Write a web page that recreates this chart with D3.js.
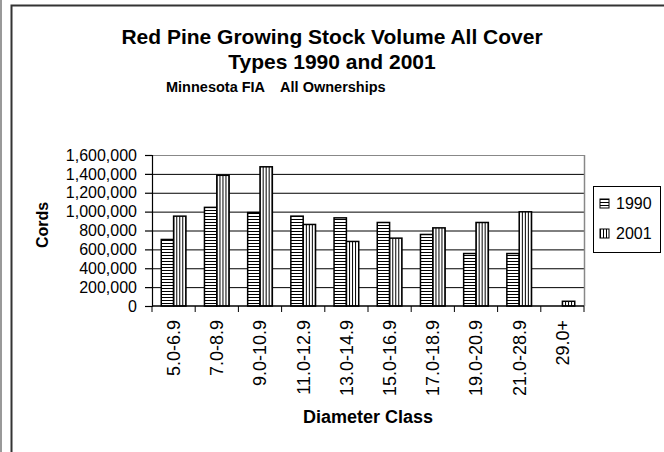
<!doctype html>
<html>
<head>
<script src="https://d3js.org/d3.v7.min.js"></script>
<style>
  body { margin: 0; background: #fff; }
  svg text { font-family: "Liberation Sans", Arial, sans-serif; fill: #000; }
</style>
</head>
<body>
<script>
// data
var categories = ["5.0-6.9", "7.0-8.9", "9.0-10.9", "11.0-12.9", "13.0-14.9",
                  "15.0-16.9", "17.0-18.9", "19.0-20.9", "21.0-28.9", "29.0+"];
var seriesNames = ["1990", "2001"];
var vol1990 = [705000, 1045000, 990000, 952000, 934000, 885000, 758000, 556000, 556000, 0];
var vol2001 = [952000, 1385000, 1475000, 864000, 684000, 719000, 828000, 885000, 998000, 50000];
var yTicks = [0, 200000, 400000, 600000, 800000, 1000000, 1200000, 1400000, 1600000];

var width = 664, height = 452;
var plot = {left: 152, right: 584, top: 155, bottom: 306};
var font = "'Liberation Sans', Arial, sans-serif";

var svg = d3.select("body").append("svg")
  .attr("width", width).attr("height", height);

// patterns: horizontal stripes for 1990, vertical for 2001
var defs = svg.append("defs");
var ph = defs.append("pattern").attr("id", "hstripe")
  .attr("patternUnits", "userSpaceOnUse").attr("width", 4).attr("height", 3);
ph.append("rect").attr("width", 4).attr("height", 3).attr("fill", "#fff");
ph.append("rect").attr("y", 0).attr("width", 4).attr("height", 1).attr("fill", "#000");
var pv = defs.append("pattern").attr("id", "vstripe")
  .attr("patternUnits", "userSpaceOnUse").attr("width", 3).attr("height", 4);
pv.append("rect").attr("width", 3).attr("height", 4).attr("fill", "#fff");
pv.append("rect").attr("x", 0).attr("width", 1).attr("height", 4).attr("fill", "#000");
var fills = {"1990": "url(#hstripe)", "2001": "url(#vstripe)"};

// outer frame
svg.append("line").attr("x1", 1).attr("x2", 1).attr("y1", 0).attr("y2", height)
  .attr("stroke", "#999").attr("stroke-width", 2);
svg.append("path").attr("d", "M11.5," + height + "V5.5H" + width)
  .attr("fill", "none").attr("stroke", "#333").attr("stroke-width", 2);

// titles
svg.append("text").attr("x", 332).attr("y", 44).attr("text-anchor", "middle")
  .style("font-size", "21px").style("font-weight", "bold")
  .text("Red Pine Growing Stock Volume All Cover");
svg.append("text").attr("x", 332).attr("y", 69).attr("text-anchor", "middle")
  .style("font-size", "21px").style("font-weight", "bold")
  .text("Types 1990 and 2001");
svg.append("text").attr("x", 166).attr("y", 92)
  .style("font-size", "14.5px").style("font-weight", "bold")
  .attr("xml:space", "preserve")
  .text("Minnesota FIA    All Ownerships");

// scales
var x0 = d3.scaleBand().domain(categories).range([plot.left, plot.right])
  .paddingInner(1.5 / 3.5).paddingOuter(0.75 / 3.5);
var x1 = d3.scaleBand().domain(seriesNames).range([0, x0.bandwidth()]);
var y = d3.scaleLinear().domain([0, 1600000]).range([plot.bottom, plot.top]);

// gridlines
svg.append("g").selectAll("line").data(yTicks.slice(1)).join("line")
  .attr("x1", plot.left).attr("x2", plot.right)
  .attr("y1", d => y(d) + 0.5).attr("y2", d => y(d) + 0.5)
  .attr("stroke", (d, i, a) => i === a.length - 1 ? "#888" : "#000")
  .attr("stroke-width", 1);
svg.append("line").attr("x1", plot.right + 0.5).attr("x2", plot.right + 0.5)
  .attr("y1", plot.top).attr("y2", plot.bottom)
  .attr("stroke", "#888").attr("stroke-width", 1.5);

// bars
var rows = categories.map((c, i) => ({cat: c, values: [
  {name: "1990", value: vol1990[i]}, {name: "2001", value: vol2001[i]}]}));
svg.append("g").selectAll("g").data(rows).join("g")
  .attr("transform", d => "translate(" + x0(d.cat) + ",0)")
  .selectAll("rect").data(d => d.values.filter(v => v.value > 0)).join("rect")
  .attr("x", d => x1(d.name)).attr("width", x1.bandwidth())
  .attr("y", d => y(d.value)).attr("height", d => y(0) - y(d.value))
  .attr("fill", d => fills[d.name])
  .attr("stroke", "#000").attr("stroke-width", 1.5);

// y axis
var yAxis = svg.append("g").attr("transform", "translate(" + plot.left + ",0)")
  .call(d3.axisLeft(y).tickValues(yTicks).tickSize(7).tickPadding(8)
    .tickFormat(d3.format(",")));
yAxis.attr("font-family", font);
yAxis.selectAll("text").style("font-size", "16px");
yAxis.selectAll("line, path").attr("stroke", "#000").attr("stroke-width", 1.2);

// x axis: ticks between categories
var xg = svg.append("g").attr("transform", "translate(0," + plot.bottom + ")");
xg.append("line").attr("x1", plot.left).attr("x2", plot.right)
  .attr("stroke", "#000").attr("stroke-width", 1.5);
var step = x0.step();
xg.selectAll(".tk").data(d3.range(categories.length + 1)).join("line").attr("class", "tk")
  .attr("x1", i => plot.left + i * step).attr("x2", i => plot.left + i * step)
  .attr("y1", 0).attr("y2", 6).attr("stroke", "#000");
xg.selectAll(".lbl").data(categories).join("text").attr("class", "lbl")
  .attr("transform", d => "translate(" + (x0(d) + x0.bandwidth() / 2) + ",14) rotate(-90)")
  .attr("dy", "0.35em").attr("text-anchor", "end")
  .style("font-size", "18px").text(d => d);

// axis titles
svg.append("text").attr("x", 368).attr("y", 423).attr("text-anchor", "middle")
  .style("font-size", "18px").style("font-weight", "bold").text("Diameter Class");
svg.append("text").attr("transform", "translate(48,225) rotate(-90)")
  .attr("text-anchor", "middle")
  .style("font-size", "16px").style("font-weight", "bold").text("Cords");

// legend
var lg = svg.append("g");
lg.append("rect").attr("x", 593.5).attr("y", 186.5).attr("width", 67).attr("height", 66)
  .attr("fill", "#fff").attr("stroke", "#000").attr("stroke-width", 1);
var li = lg.selectAll(".li").data(seriesNames).join("g").attr("class", "li")
  .attr("transform", (d, i) => "translate(600," + (199 + i * 30) + ")");
li.append("rect").attr("width", 9).attr("height", 9)
  .attr("fill", d => fills[d]).attr("stroke", "#000").attr("stroke-width", 1);
li.append("text").attr("x", 16).attr("y", 9.5).style("font-size", "16px").text(d => d);
</script>
</body>
</html>
